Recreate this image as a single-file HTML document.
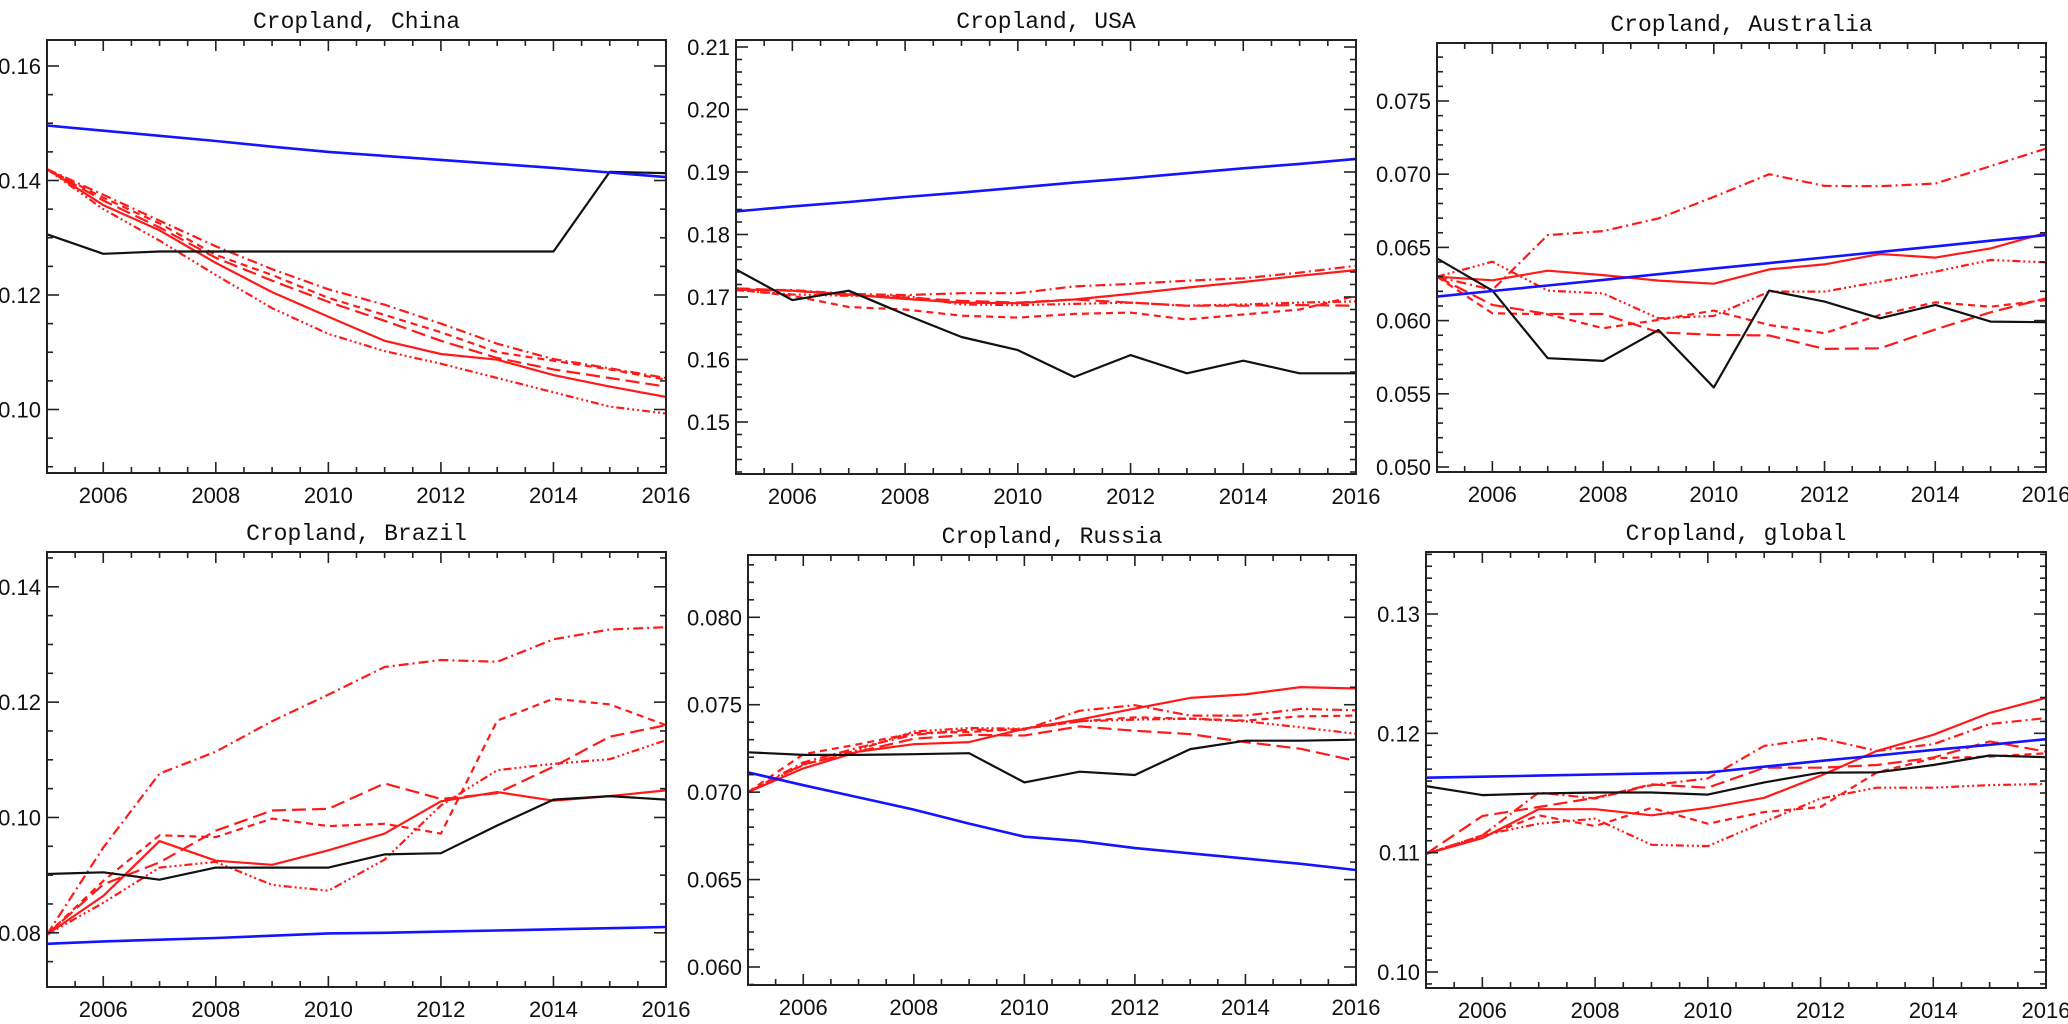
<!DOCTYPE html>
<html><head><meta charset="utf-8"><style>
html,body{margin:0;padding:0;background:#fff;}
svg{display:block;}
.tl{font-family:"Liberation Sans",sans-serif;font-size:22px;fill:#111;}
.tt{font-family:"Liberation Mono",monospace;font-size:23px;fill:#111;}
</style></head><body>
<svg id="fig" width="2068" height="1024" viewBox="0 0 2068 1024" xmlns="http://www.w3.org/2000/svg"></svg>
<script>
const years = [2005,2006,2007,2008,2009,2010,2011,2012,2013,2014,2015,2016];

const chinaBlue  = [0.1496,0.1487,0.1478,0.1469,0.1459,0.1450,0.1443,0.1436,0.1429,0.1422,0.1414,0.1406];
const chinaBlack = [0.1306,0.1272,0.1276,0.1276,0.1276,0.1276,0.1276,0.1276,0.1276,0.1276,0.1415,0.1413];
const chinaSolid = [0.142,0.1357,0.1313,0.1256,0.1205,0.1162,0.112,0.1097,0.1087,0.106,0.104,0.1022];
const chinaLong  = [0.142,0.1365,0.1318,0.1265,0.1225,0.1188,0.1155,0.112,0.109,0.107,0.1055,0.104];
const chinaDash  = [0.142,0.137,0.1325,0.127,0.1235,0.1195,0.1165,0.1135,0.110,0.1085,0.107,0.1052];
const chinaDD    = [0.142,0.1375,0.133,0.1285,0.1245,0.121,0.1183,0.115,0.1115,0.1088,0.1072,0.1055];
const chinaD3    = [0.142,0.135,0.1295,0.1235,0.1177,0.1132,0.1102,0.108,0.1055,0.103,0.1005,0.0993];

const usaBlue  = [0.1837,0.1845,0.1852,0.1860,0.1867,0.1875,0.1883,0.1890,0.1898,0.1906,0.1913,0.1921];
const usaBlack = [0.1744,0.1695,0.171,0.1672,0.1636,0.1615,0.1572,0.1607,0.1578,0.1598,0.1578,0.1578];
const usaSolid = [0.1712,0.171,0.1704,0.1697,0.1691,0.169,0.1696,0.1705,0.1715,0.1724,0.1734,0.1743];
const usaLong  = [0.1714,0.171,0.1703,0.1699,0.1694,0.1691,0.1696,0.1691,0.1686,0.1686,0.1687,0.1686];
const usaDash  = [0.1712,0.1702,0.1684,0.168,0.167,0.1667,0.1673,0.1675,0.1664,0.1672,0.168,0.1702];
const usaDD    = [0.1712,0.1711,0.1705,0.1703,0.1706,0.1706,0.1717,0.1721,0.1726,0.173,0.1739,0.175];
const usaD3    = [0.1711,0.1704,0.1702,0.1702,0.1688,0.1687,0.1689,0.1691,0.1686,0.1688,0.1691,0.1693];

const ausBlue  = [0.06164,0.06202,0.06240,0.06278,0.06317,0.06355,0.06393,0.06431,0.06469,0.06507,0.06546,0.06584];
const ausBlack = [0.06425,0.06205,0.05743,0.05725,0.05936,0.05543,0.06205,0.0613,0.06016,0.06107,0.05993,0.05989];
const ausSolid = [0.063,0.06275,0.06341,0.06311,0.06273,0.06252,0.0635,0.06384,0.06455,0.0643,0.06493,0.066];
const ausLong  = [0.063,0.06107,0.06045,0.06045,0.0592,0.05902,0.05898,0.05807,0.05811,0.0594,0.06057,0.06152];
const ausDash  = [0.063,0.0605,0.06043,0.05948,0.06005,0.06068,0.0597,0.05914,0.06039,0.06125,0.06095,0.06141];
const ausDD    = [0.063,0.0621,0.06584,0.06611,0.06698,0.06845,0.07,0.0692,0.06918,0.06936,0.07055,0.07175];
const ausD3    = [0.063,0.06402,0.06205,0.06186,0.06016,0.06032,0.06198,0.06198,0.06266,0.06334,0.06414,0.06398];

const braBlue  = [0.0781,0.0785,0.0788,0.0791,0.0795,0.0799,0.0800,0.0802,0.0804,0.0806,0.0808,0.0810];
const braBlack = [0.0902,0.0905,0.0892,0.0913,0.0913,0.0913,0.0936,0.0938,0.0986,0.1031,0.1037,0.1031];
const braSolid = [0.0797,0.0864,0.0959,0.0925,0.0918,0.0943,0.0972,0.1028,0.1044,0.1029,0.1037,0.1047];
const braLong  = [0.0797,0.0884,0.0922,0.0977,0.1012,0.1015,0.1059,0.1032,0.1042,0.1088,0.114,0.116];
const braDash  = [0.0797,0.089,0.0969,0.0966,0.0998,0.0985,0.0989,0.0972,0.1168,0.1206,0.1196,0.116];
const braDD    = [0.0797,0.0948,0.1076,0.1114,0.1167,0.1213,0.1261,0.1273,0.127,0.1309,0.1326,0.133];
const braD3    = [0.0797,0.0852,0.0913,0.0923,0.0883,0.0873,0.0927,0.1021,0.1082,0.1093,0.1101,0.1134];

const rusBlue  = [0.07113,0.0704,0.0697,0.0690,0.0682,0.06745,0.0672,0.0668,0.0665,0.0662,0.0659,0.06555];
const rusBlack = [0.07228,0.07213,0.07213,0.07217,0.07223,0.07056,0.07117,0.07098,0.07246,0.07294,0.07294,0.073];
const rusSolid = [0.070,0.07136,0.07232,0.07274,0.07286,0.07363,0.07415,0.07478,0.07539,0.07559,0.07601,0.07593];
const rusLong  = [0.070,0.07159,0.07232,0.07305,0.07328,0.07324,0.07376,0.07351,0.07332,0.07286,0.07248,0.07178];
const rusDash  = [0.070,0.07217,0.07274,0.07338,0.07344,0.07363,0.07405,0.07428,0.0742,0.07409,0.07434,0.07438];
const rusDD    = [0.070,0.0717,0.07255,0.07328,0.07357,0.07357,0.07466,0.07497,0.07438,0.07438,0.07476,0.07468];
const rusD3    = [0.070,0.07155,0.07242,0.07347,0.07367,0.07363,0.07405,0.07415,0.0742,0.07405,0.07371,0.07334];

const gloBlue  = [0.11628,0.11637,0.11646,0.11655,0.11664,0.11673,0.1172,0.11769,0.11814,0.11861,0.11904,0.11951];
const gloBlack = [0.11558,0.11482,0.11496,0.11504,0.11504,0.11487,0.11589,0.1167,0.11673,0.11735,0.11814,0.118];
const gloSolid = [0.1099,0.11122,0.11364,0.11364,0.11313,0.11375,0.1146,0.11645,0.11853,0.11988,0.12171,0.12297];
const gloLong  = [0.1099,0.11307,0.11383,0.1146,0.11572,0.11544,0.11712,0.11712,0.11735,0.11797,0.11932,0.11847];
const gloDash  = [0.1099,0.1113,0.11313,0.11223,0.11375,0.11243,0.11341,0.11383,0.11673,0.11791,0.11805,0.11833];
const gloDD    = [0.1099,0.11145,0.11504,0.11454,0.11566,0.11622,0.11895,0.1196,0.11853,0.11909,0.12078,0.12128];
const gloD3    = [0.1099,0.11145,0.11243,0.11285,0.11066,0.11055,0.11257,0.11454,0.11544,0.11544,0.11566,0.11575];

const xTickLabels = ["2006","2008","2010","2012","2014","2016"];
const titles = ["Cropland, China","Cropland, USA","Cropland, Australia","Cropland, Brazil","Cropland, Russia","Cropland, global"];

const NS = "http://www.w3.org/2000/svg";
const svg = document.getElementById('fig');
function mk(tag, attrs, parent){ const e=document.createElementNS(NS,tag); for(const k in attrs) e.setAttribute(k,attrs[k]); (parent||svg).appendChild(e); return e; }

const styles = {
  blue:{stroke:"#1414ff",w:2.6,dash:""},
  black:{stroke:"#111",w:2.2,dash:""},
  solid:{stroke:"#ff1a1a",w:2.2,dash:""},
  long:{stroke:"#ff1a1a",w:2.2,dash:"14,6"},
  dash:{stroke:"#ff1a1a",w:2.2,dash:"7,5"},
  dd:{stroke:"#ff1a1a",w:2.2,dash:"10,4,2,4"},
  d3:{stroke:"#ff1a1a",w:2.2,dash:"8,3,2,3,2,3,2,3"}
};

const panels = [
  {name:"china", rect:[47,40,666,473], ya:[0.16,66,0.12,295], major:0.02, minor:0.005, dec:2, series:{blue:chinaBlue,black:chinaBlack,solid:chinaSolid,long:chinaLong,dash:chinaDash,dd:chinaDD,d3:chinaD3}},
  {name:"usa", rect:[736,40,1356,474], ya:[0.21,47,0.15,422], major:0.01, minor:0.002, dec:2, series:{blue:usaBlue,black:usaBlack,solid:usaSolid,long:usaLong,dash:usaDash,dd:usaDD,d3:usaD3}},
  {name:"australia", rect:[1437,43,2046,472], ya:[0.075,101,0.050,467], major:0.005, minor:0.001, dec:3, series:{blue:ausBlue,black:ausBlack,solid:ausSolid,long:ausLong,dash:ausDash,dd:ausDD,d3:ausD3}},
  {name:"brazil", rect:[47,552,666,987], ya:[0.14,586.8,0.08,932.8], major:0.02, minor:0.005, dec:2, series:{blue:braBlue,black:braBlack,solid:braSolid,long:braLong,dash:braDash,dd:braDD,d3:braD3}},
  {name:"russia", rect:[748,555,1356,985], ya:[0.080,617.3,0.060,967], major:0.005, minor:0.001, dec:3, series:{blue:rusBlue,black:rusBlack,solid:rusSolid,long:rusLong,dash:rusDash,dd:rusDD,d3:rusD3}},
  {name:"global", rect:[1426,552,2046,988], ya:[0.13,614,0.10,972], major:0.01, minor:0.001, dec:2, series:{blue:gloBlue,black:gloBlack,solid:gloSolid,long:gloLong,dash:gloDash,dd:gloDD,d3:gloD3}}
];

panels.forEach((p,pi)=>{
  const [x0,y0,x1,y1]=p.rect;
  const g=mk('g',{});
  
  
  const sx = y => x0 + (y-2005)/(2016-2005)*(x1-x0);
  const k = (p.ya[3]-p.ya[1])/(p.ya[2]-p.ya[0]);
  const sy = v => p.ya[1] + (v-p.ya[0])*k;
  const vAt = px => p.ya[0] + (px-p.ya[1])/k;
  const vmin = vAt(y1), vmax = vAt(y0);

  const t=mk('text',{x:(x0+x1)/2,y:y0-12,'text-anchor':'middle',class:'tt'},g);
  t.textContent=titles[pi];
  
  

  const clip=mk('clipPath',{id:'c'+pi},g); mk('rect',{x:x0,y:y0,width:x1-x0,height:y1-y0},clip);
  const sg=mk('g',{'clip-path':'url(#c'+pi+')'},g);
  ["long","dash","dd","d3","solid","black","blue"].forEach(key=>{
    const vals=p.series[key], st=styles[key];
    const d=vals.map((v,i)=>(i?'L':'M')+sx(years[i]).toFixed(1)+','+sy(v).toFixed(1)).join('');
    const path=mk('path',{d:d,fill:'none',stroke:st.stroke,'stroke-width':st.w,'stroke-linejoin':'round'},sg);
    if(st.dash) path.setAttribute('stroke-dasharray',st.dash);
    
    
  });

  const fr=mk('rect',{x:x0,y:y0,width:x1-x0,height:y1-y0,fill:'none',stroke:'#222','stroke-width':2},g);
  
  

  const xa=mk('g',{stroke:'#222','stroke-width':1.6},g);
  
  
  for(let yr=2005; yr<=2016.01; yr+=0.5){
    const x=sx(yr); const maj=Math.abs(yr%2)<1e-6; const L=maj?11:6;
    mk('line',{x1:x,y1:y1,x2:x,y2:y1-L},xa);
    mk('line',{x1:x,y1:y0,x2:x,y2:y0+L},xa);
  }
  xTickLabels.forEach(s=>{
    const yr=+s;
    const tx=mk('text',{x:sx(yr),y:y1+30,'text-anchor':'middle',class:'tl'},g);
    tx.textContent=s;
    
    
  });

  const ya=mk('g',{stroke:'#222','stroke-width':1.6},g);
  
  
  const nStart=Math.ceil(vmin/p.minor-1e-6), nEnd=Math.floor(vmax/p.minor+1e-6);
  const ratio=Math.round(p.major/p.minor);
  for(let n=nStart;n<=nEnd;n++){
    const v=n*p.minor, y=sy(v); const maj=(n%ratio===0); const L=maj?12:6;
    mk('line',{x1:x0,y1:y,x2:x0+L,y2:y},ya);
    mk('line',{x1:x1,y1:y,x2:x1-L,y2:y},ya);
    if(maj){
      const ty=mk('text',{x:x0-6,y:y+8,'text-anchor':'end',class:'tl'},g);
      ty.textContent=v.toFixed(p.dec);
      
      
    }
  }
});
</script>
</body></html>
